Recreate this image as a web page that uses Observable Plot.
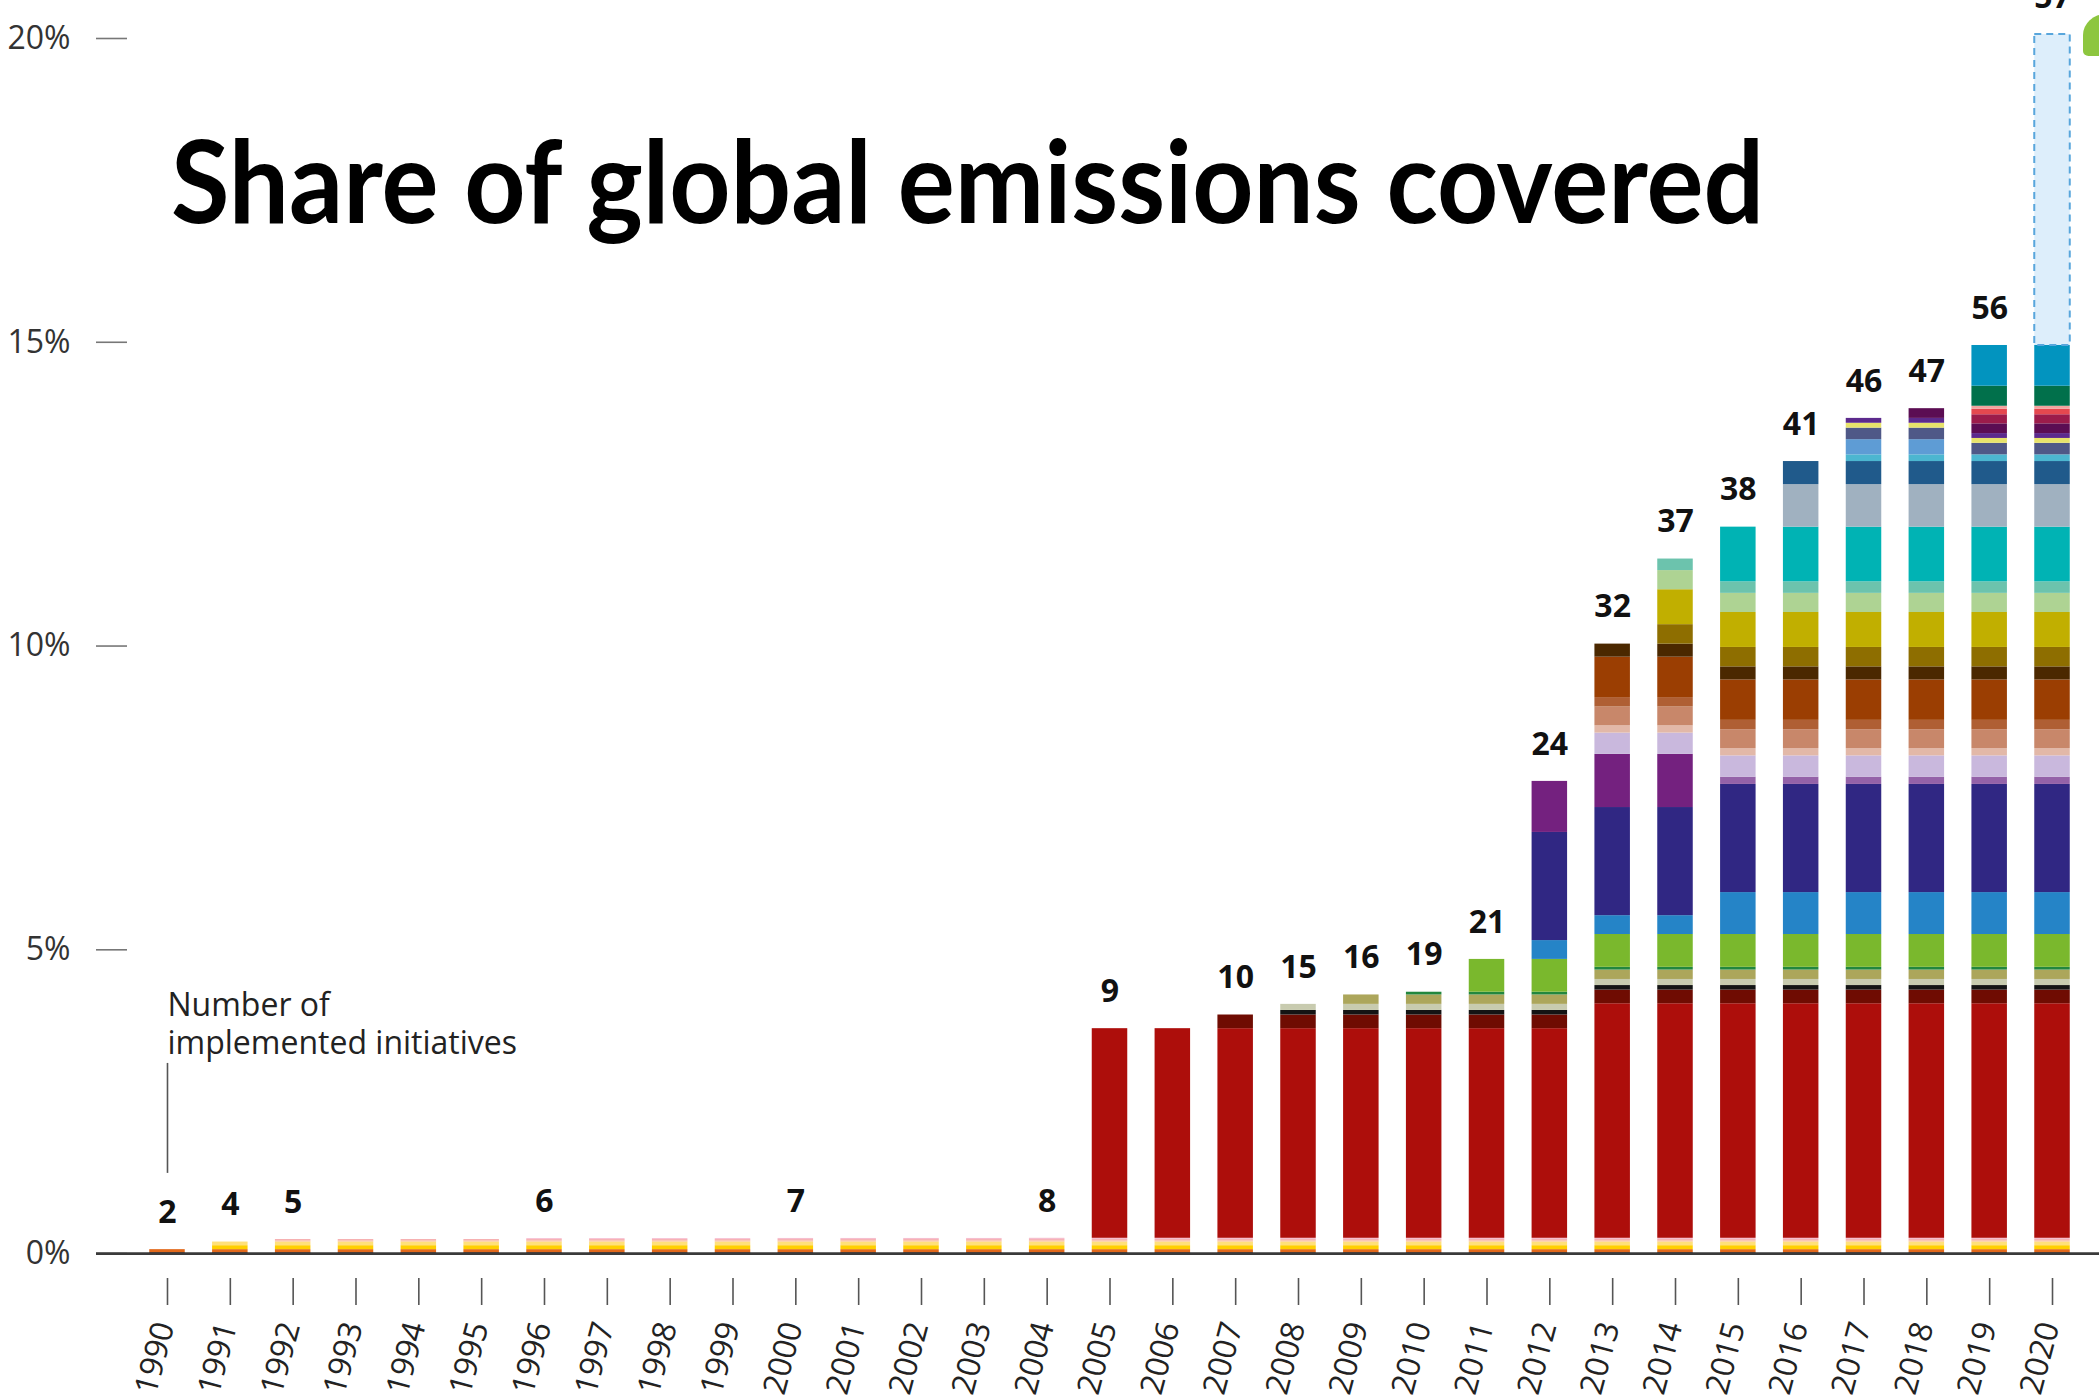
<!DOCTYPE html>
<html>
<head>
<meta charset="utf-8">
<script src="https://cdn.jsdelivr.net/npm/d3@7"></script>
<script src="https://cdn.jsdelivr.net/npm/@observablehq/plot@0.6"></script>
<style>
  html, body { margin: 0; padding: 0; background: #fff; overflow: hidden; }
  #wrap { position: relative; width: 2099px; height: 1397px; overflow: hidden; background: #fff; }
  #overlay { position: absolute; left: 0; top: 0; pointer-events: none; }
  #pin { position: absolute; left: 2083px; top: 14px; width: 46px; height: 42px;
         background: #8DC63F; border-radius: 50% 50% 50% 12%; }
</style>
</head>
<body>
<div id="wrap">
  <div id="chart"></div>
  <svg id="overlay" width="2099" height="1397">
    <text x="171" y="223" textLength="1593" lengthAdjust="spacingAndGlyphs"
          font-family="Lato, 'Open Sans', sans-serif" font-weight="700" font-size="114" fill="#000">Share of global emissions covered</text>
  </svg>
  <div id="pin"></div>
</div>
<script>
// Years on the x axis
const years = [1990, 1991, 1992, 1993, 1994, 1995, 1996, 1997, 1998, 1999,
               2000, 2001, 2002, 2003, 2004, 2005, 2006, 2007, 2008, 2009,
               2010, 2011, 2012, 2013, 2014, 2015, 2016, 2017, 2018, 2019, 2020];

// Number of implemented initiatives in each year
const initiativeCounts = [2, 4, 5, 5, 5, 5, 6, 6, 6, 6,
                          7, 7, 7, 7, 8, 9, 9, 10, 15, 16,
                          19, 21, 24, 32, 37, 38, 41, 46, 47, 56, 57];

// Initiatives, in stacking order from the bottom up
const layerIds = ["L01", "L02", "L03", "L04", "L05", "L06", "L07", "L08", "L09", "L10",
                  "L11", "L12", "L13", "L14", "L15", "L16", "L17", "L18", "L19", "L20",
                  "L21", "L22", "L23", "L24", "L25", "L26", "L27", "L28", "L29", "L30",
                  "L31", "L32", "L33", "L34", "L35", "L36", "L37", "L38", "L39", "L40",
                  "L41", "L42", "L43", "L44"];

const layerColors = ["#5B1A0C", "#E2691B", "#FFCF00", "#FFE07A", "#F9C29A", "#F5A7A9", "#F7B7CC", "#EFA3B5", "#F4C6C6", "#AD0E0B",
                     "#6F0C02", "#141414", "#C8CBAF", "#ACA65B", "#22873E", "#7AB82D", "#2584C7", "#302783", "#74217F", "#9462A8",
                     "#C9B8DD", "#E2B8A8", "#C8876A", "#AF5F34", "#9B3E02", "#4B2800", "#8E6E00", "#C1AF00", "#AED393", "#6CC3AD",
                     "#00B3B4", "#A0B1C0", "#205A8B", "#4CB6D0", "#5E9CD5", "#4F5887", "#E8E36B", "#5C2A8D", "#5B0D53", "#9C1C4B",
                     "#E5484F", "#F2A49F", "#01704B", "#0294BF"];

// Share of global emissions covered (%): [initiative, first year, last year, share]
const coverage = [
  ["L01", 1990, 2020, 0.015],
  ["L02", 1990, 2020, 0.05],
  ["L03", 1991, 2020, 0.065],
  ["L04", 1991, 2020, 0.06],
  ["L05", 1992, 2020, 0.02],
  ["L06", 1992, 2020, 0.02],
  ["L07", 1996, 2020, 0.015],
  ["L08", 2000, 2020, 0.004],
  ["L09", 2004, 2020, 0.003],
  ["L10", 2005, 2012, 3.45],
  ["L10", 2013, 2020, 3.86],
  ["L11", 2007, 2020, 0.225],
  ["L12", 2008, 2020, 0.075],
  ["L13", 2008, 2020, 0.10],
  ["L14", 2009, 2020, 0.155],
  ["L15", 2010, 2020, 0.045],
  ["L16", 2011, 2020, 0.54],
  ["L17", 2012, 2014, 0.31],
  ["L17", 2015, 2020, 0.69],
  ["L18", 2012, 2020, 1.78],
  ["L19", 2012, 2012, 0.84],
  ["L19", 2013, 2014, 0.875],
  ["L20", 2015, 2020, 0.12],
  ["L21", 2013, 2020, 0.35],
  ["L22", 2013, 2020, 0.12],
  ["L23", 2013, 2020, 0.31],
  ["L24", 2013, 2020, 0.155],
  ["L25", 2013, 2020, 0.665],
  ["L26", 2013, 2020, 0.215],
  ["L27", 2014, 2020, 0.32],
  ["L28", 2014, 2020, 0.575],
  ["L29", 2014, 2020, 0.315],
  ["L30", 2014, 2020, 0.19],
  ["L31", 2015, 2020, 0.90],
  ["L32", 2016, 2020, 0.70],
  ["L33", 2016, 2020, 0.38],
  ["L34", 2017, 2020, 0.11],
  ["L35", 2017, 2018, 0.25],
  ["L36", 2017, 2020, 0.19],
  ["L37", 2017, 2020, 0.08],
  ["L38", 2017, 2020, 0.08],
  ["L39", 2018, 2020, 0.16],
  ["L40", 2019, 2020, 0.15],
  ["L41", 2019, 2020, 0.09],
  ["L42", 2019, 2020, 0.05],
  ["L43", 2019, 2020, 0.33],
  ["L44", 2019, 2020, 0.67]
];

// Additional share expected in the final year (outlined bar)
const projectedYear = 2020;
const projectedShare = 5.12;

const yTicks = [0, 5, 10, 15, 20];

// Annotation for the count labels
const noteText = "Number of\nimplemented initiatives";
const noteYear = 1990;
const noteTextAt = 3.29;
const noteLine = [1.32, 3.13];

// One row per initiative and year
const rows = [];
for (const [layer, from, to, share] of coverage) {
  for (const year of years) {
    if (year >= from && year <= to) rows.push({year, layer, share});
  }
}

const totals = d3.rollup(rows, v => d3.sum(v, d => d.share), d => d.year);

const projected = [{
  year: projectedYear,
  base: totals.get(projectedYear),
  top: totals.get(projectedYear) + projectedShare
}];

// Count labels appear where the number of initiatives changes
const countLabels = years
  .map((year, i) => ({
    year,
    count: initiativeCounts[i],
    top: totals.get(year) + (year === projectedYear ? projectedShare : 0),
    changed: i === 0 || initiativeCounts[i] !== initiativeCounts[i - 1]
  }))
  .filter(d => d.changed);

const chart = Plot.plot({
  width: 2099,
  height: 1397,
  marginTop: 38,
  marginBottom: 119,
  marginLeft: 127,
  marginRight: 7,
  style: {
    fontFamily: "'Open Sans', 'Noto Sans', sans-serif",
    fontSize: "32px",
    color: "#333",
    background: "white",
    overflow: "visible"
  },
  x: {type: "band", domain: years, paddingInner: 0.435, paddingOuter: 0.354, align: 0.5, round: false, axis: null},
  y: {domain: [-0.41, 20], label: null, axis: null},
  color: {domain: layerIds, range: layerColors},
  marks: [
    Plot.axisY({
      ticks: yTicks,
      tickFormat: d => d + "%",
      tickSize: 31,
      tickPadding: 26,
      label: null,
      stroke: "#777",
      strokeWidth: 1.6,
      fill: "#333",
      fontSize: 32
    }),
    Plot.barY(rows, {x: "year", y: "share", z: "layer", fill: "layer", order: layerIds}),
    Plot.barY(projected, {
      x: "year", y1: "base", y2: "top",
      fill: "#DDEEFB", stroke: "#58A6DC", strokeWidth: 2, strokeDasharray: "7,5"
    }),
    Plot.ruleY([0], {stroke: "#3a3a3a", strokeWidth: 2.6, insetLeft: -31, insetRight: -10}),
    Plot.axisX({ticks: years, tickSize: 27, tickFormat: () => "", stroke: "#555", strokeWidth: 1.6, label: null}),
    Plot.text(years, {
      x: d => d, frameAnchor: "bottom", text: d => String(d),
      rotate: -75, textAnchor: "end", dx: 7, dy: 47,
      fill: "#222", fontSize: 32
    }),
    Plot.text(countLabels, {
      x: "year", y: "top", text: d => String(d.count),
      dy: -37, fontWeight: 700, fontSize: 32, fill: "#111"
    }),
    Plot.ruleX([noteYear], {y1: noteLine[0], y2: noteLine[1], stroke: "#555", strokeWidth: 1.6}),
    Plot.text([noteText], {
      x: () => noteYear, y: () => noteTextAt, text: d => d,
      textAnchor: "start", lineAnchor: "bottom", lineHeight: 1.19,
      fontSize: 32, fill: "#222"
    })
  ]
});

document.getElementById("chart").appendChild(chart);
</script>
</body>
</html>
